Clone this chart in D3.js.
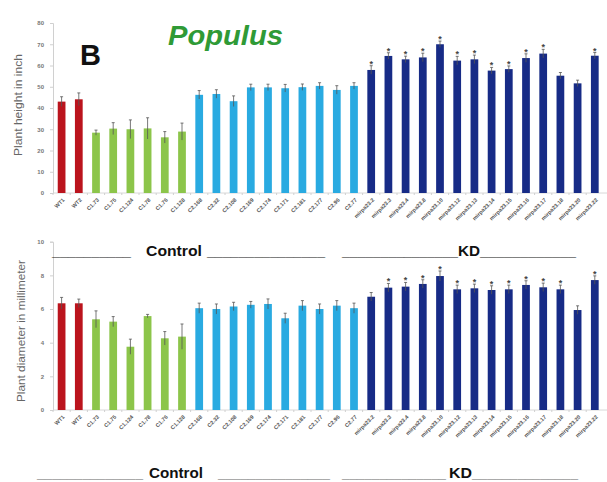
<!DOCTYPE html>
<html><head><meta charset="utf-8">
<script src="https://cdn.jsdelivr.net/npm/d3@7"></script>
<style>body{margin:0;background:#fff}svg{display:block}</style>
</head><body>
<svg id="c" width="607" height="482"></svg>
<script>
const categories = ["WT1","WT2","C1.73","C1.75","C1.124","C1.78","C1.76","C1.128",
 "C2.168","C2.32","C2.108","C2.169","C2.174","C2.171","C2.181","C2.177","C2.96","C2.77",
 "mirpa23.2","mirpa23.3","mirpa23.4","mirpa23.8","mirpa23.10","mirpa23.12","mirpa23.13",
 "mirpa23.14","mirpa23.15","mirpa23.16","mirpa23.17","mirpa23.18","mirpa23.20","mirpa23.22"];
const groups = ["WT","WT","C1","C1","C1","C1","C1","C1",
 "C2","C2","C2","C2","C2","C2","C2","C2","C2","C2",
 "KD","KD","KD","KD","KD","KD","KD","KD","KD","KD","KD","KD","KD","KD"];
const heightValues = [43,44.1,28.4,30.3,30,30.4,26.2,28.9,
 46.2,46.6,43.2,49.7,49.7,49.3,49.8,50.4,48.5,50.4,
 57.9,64.5,62.9,63.8,70,62.3,62.9,57.6,58.3,63.5,65.6,55.2,51.6,64.6];
const heightErrors = [2.3,3,1.2,2.8,4.4,5,2.7,4,
 2,2,2.5,1.5,1.5,1.8,1.5,1.5,2,1.5,
 2,1.5,1.5,2,1.5,2,2,1.5,1.5,2,2,1.5,1.5,1.5];
const heightStars = [0,0,0,0,0,0,0,0, 0,0,0,0,0,0,0,0,0,0, 1,1,1,1,1,1,1,1,1,1,1,0,0,1];
const diameterValues = [6.34,6.34,5.39,5.25,3.76,5.58,4.26,4.36,
 6.05,6.0,6.15,6.25,6.3,5.45,6.2,6.0,6.2,6.05,
 6.73,7.27,7.33,7.49,7.96,7.17,7.23,7.13,7.17,7.43,7.29,7.17,5.94,7.72];
const diameterErrors = [0.35,0.25,0.5,0.3,0.45,0.1,0.4,0.75,
 0.3,0.3,0.25,0.2,0.3,0.3,0.3,0.3,0.3,0.3,
 0.25,0.25,0.25,0.25,0.3,0.25,0.25,0.25,0.25,0.25,0.25,0.25,0.25,0.25];
const diameterStars = [0,0,0,0,0,0,0,0, 0,0,0,0,0,0,0,0,0,0, 0,1,1,1,1,1,1,1,1,1,1,1,0,1];
const heightTicks = [0,10,20,30,40,50,60,70,80];
const diameterTicks = [0,2,4,6,8,10];

const colors = {WT:"#bb141d", C1:"#8cc54a", C2:"#29aae1", KD:"#172b86"};
const svg = d3.select("#c");
const font = "Arial, 'Liberation Sans', sans-serif";

const x = d3.scaleBand().domain(categories).range([53, 603.4]).paddingInner(0.55).paddingOuter(0.275);

function panel(values, errors, stars, ticks, ymax, y0, y1, title, titleX, titleY, titleLen, labelTop) {
  const y = d3.scaleLinear().domain([0, ymax]).range([y0, y1]);
  const g = svg.append("g");
  const ax = g.append("g").attr("transform","translate(53,0)")
    .call(d3.axisLeft(y).tickValues(ticks).tickSize(3).tickPadding(6));
  ax.selectAll("path,line").attr("stroke","#d0d0d0");
  ax.selectAll("text").attr("font-family",font).attr("font-size",6).attr("font-weight","bold").attr("fill","#777");
  g.append("line").attr("x1",53).attr("x2",607).attr("y1",y0).attr("y2",y0).attr("stroke","#d8d8d8");
  g.selectAll("line.xt").data(categories).join("line")
    .attr("x1",d=>x(d)-x.step()*0.275).attr("x2",d=>x(d)-x.step()*0.275)
    .attr("y1",y0).attr("y2",y0+2).attr("stroke","#d0d0d0");
  g.selectAll("rect").data(categories).join("rect")
    .attr("x",d=>x(d)).attr("width",x.bandwidth())
    .attr("y",(d,i)=>y(values[i])).attr("height",(d,i)=>y0-y(values[i]))
    .attr("fill",(d,i)=>colors[groups[i]]);
  const cx = d=>x(d)+x.bandwidth()/2;
  g.selectAll("line.eb").data(categories).join("line")
    .attr("x1",cx).attr("x2",cx)
    .attr("y1",(d,i)=>y(values[i]-errors[i])).attr("y2",(d,i)=>y(values[i]+errors[i]))
    .attr("stroke","#555").attr("stroke-width",0.8);
  g.selectAll("line.cap").data(categories).join("line")
    .attr("x1",d=>cx(d)-1.5).attr("x2",d=>cx(d)+1.5)
    .attr("y1",(d,i)=>y(values[i]+errors[i])).attr("y2",(d,i)=>y(values[i]+errors[i]))
    .attr("stroke","#555").attr("stroke-width",0.8);
  g.selectAll("text.star").data(categories.filter((d,i)=>stars[i])).join("text")
    .attr("x",cx).attr("y",d=>{const i=categories.indexOf(d);return y(values[i]+errors[i])+1;})
    .attr("text-anchor","middle").attr("font-family",font).attr("font-size",9).attr("font-weight","bold")
    .attr("fill","#444").text("*");
  g.selectAll("text.xl").data(categories).join("text")
    .attr("transform",d=>`translate(${cx(d)+2},${labelTop}) rotate(-45)`)
    .attr("text-anchor","end").attr("dy","0.35em")
    .attr("font-family",font).attr("font-size",5.5).attr("font-weight","bold").attr("fill","#555")
    .text(d=>d);
  g.append("text").attr("transform",`translate(${titleX},${titleY}) rotate(-90)`)
    .attr("text-anchor","middle").attr("font-family",font).attr("font-size",11)
    .attr("textLength",titleLen).attr("lengthAdjust","spacingAndGlyphs")
    .attr("fill","#666").text(title);
}

panel(heightValues, heightErrors, heightStars, heightTicks, 80, 193, 23, "Plant height in inch", 22, 105, 102, 199);
panel(diameterValues, diameterErrors, diameterStars, diameterTicks, 10, 410, 241.7, "Plant diameter in millimeter", 25, 331, 142, 416);

svg.append("text").attr("x",80).attr("y",65).attr("font-family",font).attr("font-weight","bold")
  .attr("font-size",29).attr("fill","#111").text("B");
svg.append("text").attr("x",168).attr("y",45).attr("font-family",font).attr("font-weight","bold")
  .attr("font-style","italic").attr("font-size",28).attr("fill","#2f9a36")
  .attr("textLength",115).attr("lengthAdjust","spacingAndGlyphs").text("Populus");

function groupRow(yb, parts, color, weight) {
  parts.forEach(p=>{
    const t = svg.append("text").attr("x",p[0]).attr("y",yb).attr("font-family",font)
      .attr("font-weight",weight).attr("font-size",p[4]||14).attr("fill",p[3]||color).text(p[2]);
    if (p[1]) t.attr("textLength",p[1]).attr("lengthAdjust","spacingAndGlyphs");
  });
}
groupRow(256, [[52,79,"__________"],[146,56,"Control",null,15],[207,118,"_______________"],
  [342,116,"_______________"],[458,22,"KD",null,15],[480,96,"____________"]], "#111", "bold");
groupRow(478, [[37,106,"______________","#777"],[149,54,"Control",null,15],[218,112,"_______________","#777"],
  [342,104,"______________","#777"],[449,23,"KD",null,15],[472,106,"______________","#777"]], "#111", "bold");
</script>
</body></html>
